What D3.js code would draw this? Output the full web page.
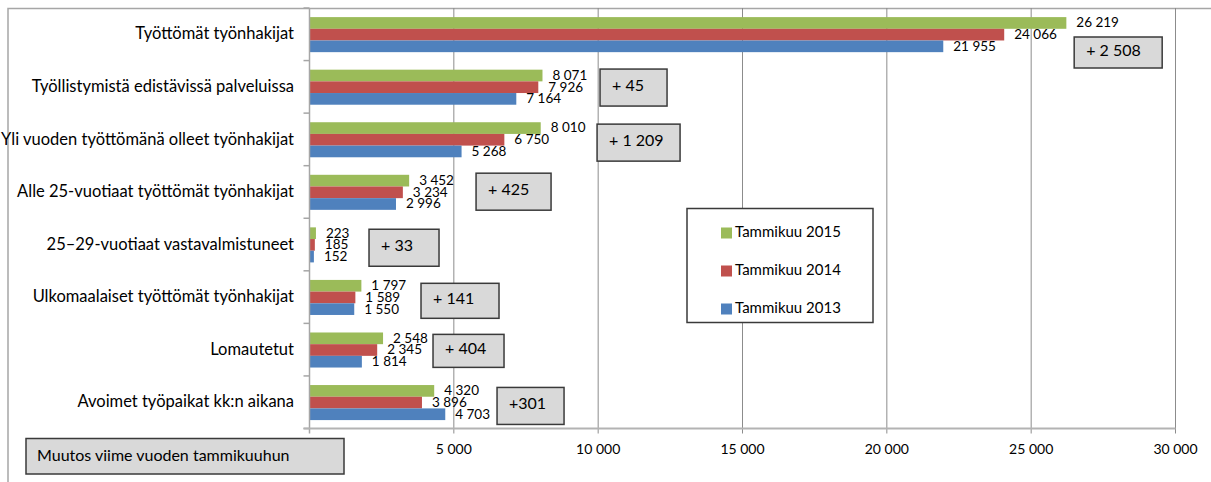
<!DOCTYPE html>
<html>
<head>
<meta charset="utf-8">
<script src="https://cdn.jsdelivr.net/npm/d3@7"></script>
<style>
  body { margin: 0; background: #fff; }
  svg { display: block; font-family: Lato, 'Open Sans', sans-serif; }
</style>
</head>
<body>
<div id="chart"></div>
<script>
const categories = [
    'Työttömät työnhakijat',
    'Työllistymistä edistävissä palveluissa',
    'Yli vuoden työttömänä olleet työnhakijat',
    'Alle 25-vuotiaat työttömät työnhakijat',
    '25–29-vuotiaat vastavalmistuneet',
    'Ulkomaalaiset työttömät työnhakijat',
    'Lomautetut',
    'Avoimet työpaikat kk:n aikana'
]
const seriesNames = ['Tammikuu 2015', 'Tammikuu 2014', 'Tammikuu 2013']
const values2015 = [26219, 8071, 8010, 3452, 223, 1797, 2548, 4320]
const values2014 = [24066, 7926, 6750, 3234, 185, 1589, 2345, 3896]
const values2013 = [21955, 7164, 5268, 2996, 152, 1550, 1814, 4703]
const changes = ['+ 2 508', '+ 45', '+ 1 209', '+ 425', '+ 33', '+ 141', '+ 404', '+301']
const xTicks = [5000, 10000, 15000, 20000, 25000, 30000]
const noteText = 'Muutos viime vuoden tammikuuhun'

// box placement for the change notes (left edge in axis units, offset in band, size)
const boxLeft = [26490, 10065, 9962, 5770, 2062, 3863, 4279, 6497]
const boxDy = [29, 8.5, 11, 7.5, 11, 12.5, 11, 11.5]
const boxSize = [[88, 31], [67, 37], [83, 37], [75, 37], [70, 37], [78, 35], [71, 33], [67, 37]]

const colors = ['#9bbb59', '#c0504d', '#4f81bd']
const seriesValues = [values2015, values2014, values2013]

const width = 1211
const height = 482
const plotLeft = 309.5
const plotRight = 1175.5
const plotTop = 8
const plotBottom = 428.5

const svg = d3.select('#chart').append('svg')
    .attr('width', width)
    .attr('height', height)

const fmt = d3.formatLocale({ decimal: ',', thousands: ' ', grouping: [3], currency: ['', ''] }).format(',d')

const x = d3.scaleLinear().domain([0, 30000]).range([plotLeft, plotRight])
const y = d3.scaleBand().domain(categories).range([plotTop, plotBottom])
const ySub = d3.scaleBand().domain(seriesNames).range([0, y.bandwidth()]).paddingOuter(0.75).align(0.52)

// outer frame
svg.append('path')
    .attr('d', `M8,${height + 2}V8.5H${width + 2}`)
    .attr('fill', 'none')
    .attr('stroke', '#a6a6a6')
    .attr('stroke-width', 1.5)

// gridlines
svg.append('g')
    .selectAll('line').data(xTicks).enter()
    .append('line')
    .attr('x1', d => x(d)).attr('x2', d => x(d))
    .attr('y1', plotTop).attr('y2', plotBottom + 5)
    .attr('stroke', '#8c8c8c')
    .attr('stroke-width', 1)

// bars
categories.forEach((cat, i) => {
    const g = svg.append('g').attr('transform', `translate(0,${y(cat)})`)
    seriesNames.forEach((s, j) => {
        const v = seriesValues[j][i]
        g.append('rect')
            .attr('x', x(0))
            .attr('y', ySub(s))
            .attr('width', x(v) - x(0))
            .attr('height', ySub.bandwidth())
            .attr('fill', colors[j])
        g.append('text')
            .attr('x', x(v) + 10)
            .attr('y', ySub(s) + ySub.bandwidth() / 2 + 1)
            .attr('dominant-baseline', 'middle')
            .attr('font-size', 13.5)
            .attr('fill', '#000')
            .text(fmt(v))
    })
})

// y axis
svg.append('line')
    .attr('x1', x(0)).attr('x2', x(0))
    .attr('y1', plotTop).attr('y2', plotBottom + 5)
    .attr('stroke', '#a6a6a6').attr('stroke-width', 1.5)
svg.append('g')
    .selectAll('line').data(categories.concat(['end'])).enter()
    .append('line')
    .attr('x1', x(0) - 6).attr('x2', x(0))
    .attr('y1', (d, i) => plotTop + i * y.step())
    .attr('y2', (d, i) => plotTop + i * y.step())
    .attr('stroke', '#a6a6a6').attr('stroke-width', 1.5)

// x axis
svg.append('line')
    .attr('x1', x(0) - 6).attr('x2', plotRight)
    .attr('y1', plotBottom).attr('y2', plotBottom)
    .attr('stroke', '#b3b3b3').attr('stroke-width', 2)

svg.append('g')
    .selectAll('text').data(xTicks).enter()
    .append('text')
    .attr('x', d => x(d))
    .attr('y', plotBottom + 22)
    .attr('text-anchor', 'middle')
    .attr('dominant-baseline', 'middle')
    .attr('font-size', 14)
    .attr('fill', '#000')
    .text(d => fmt(d))

// category labels
svg.append('g')
    .selectAll('text').data(categories).enter()
    .append('text')
    .attr('x', 294)
    .attr('y', d => y(d) + y.bandwidth() / 2 + 1)
    .attr('text-anchor', 'end')
    .attr('dominant-baseline', 'middle')
    .attr('font-size', 16.5)
    .attr('fill', '#000')
    .text(d => d)

// change boxes
categories.forEach((cat, i) => {
    const bx = x(boxLeft[i])
    const by = y(cat) + boxDy[i]
    svg.append('rect')
        .attr('x', bx).attr('y', by)
        .attr('width', boxSize[i][0]).attr('height', boxSize[i][1])
        .attr('fill', '#d9d9d9')
        .attr('stroke', '#3a3a3a').attr('stroke-width', 1.5)
    svg.append('text')
        .attr('x', bx + 12)
        .attr('y', by + boxSize[i][1] / 2 - 1)
        .attr('dominant-baseline', 'middle')
        .attr('font-size', 16)
        .attr('fill', '#000')
        .text(changes[i])
})

// note box
svg.append('rect')
    .attr('x', 26).attr('y', 438.5)
    .attr('width', 318).attr('height', 35.5)
    .attr('fill', '#d9d9d9')
    .attr('stroke', '#3a3a3a').attr('stroke-width', 1.5)
svg.append('text')
    .attr('x', 37).attr('y', 456.5)
    .attr('dominant-baseline', 'middle')
    .attr('font-size', 16)
    .attr('fill', '#000')
    .text(noteText)

// legend
const legend = svg.append('g').attr('transform', 'translate(687,208.5)')
legend.append('rect')
    .attr('width', 186).attr('height', 114)
    .attr('fill', '#fff')
    .attr('stroke', '#3a3a3a').attr('stroke-width', 1.5)
seriesNames.forEach((s, j) => {
    const row = legend.append('g').attr('transform', `translate(34,${19 + j * 38})`)
    row.append('rect')
        .attr('width', 11).attr('height', 11)
        .attr('fill', colors[j])
    row.append('text')
        .attr('x', 14).attr('y', 6)
        .attr('dominant-baseline', 'middle')
        .attr('font-size', 15)
        .attr('fill', '#000')
        .text(s)
})
</script>
</body>
</html>
